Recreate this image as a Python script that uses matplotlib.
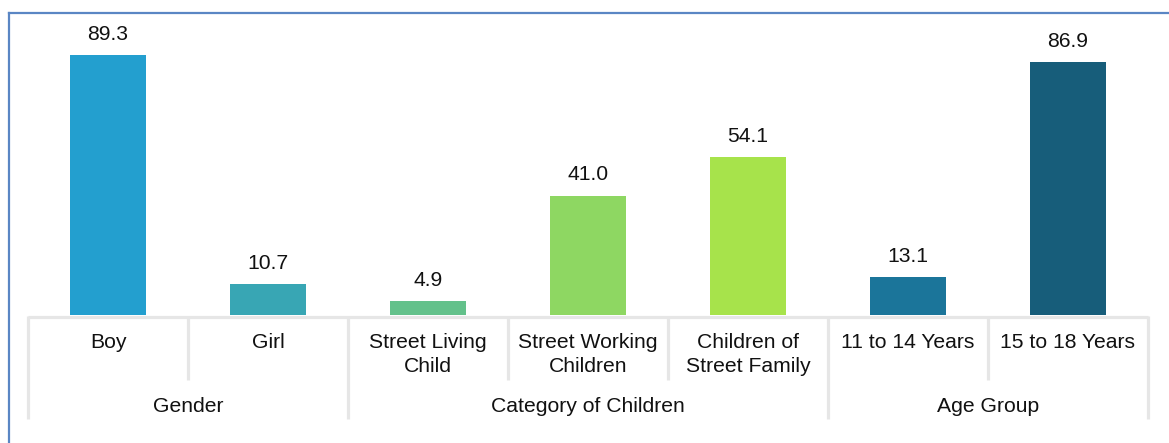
import numpy as np
import matplotlib
matplotlib.use("Agg")
import matplotlib.pyplot as plt
from matplotlib.transforms import blended_transform_factory

# data
categories = ["Boy", "Girl", "Street Living\nChild", "Street Working\nChildren",
              "Children of\nStreet Family", "11 to 14 Years", "15 to 18 Years"]
values = [89.3, 10.7, 4.9, 41.0, 54.1, 13.1, 86.9]
groups = ["Gender", "Category of Children", "Age Group"]
group_sizes = [2, 3, 2]
bar_colors = ["#239FCF", "#38A6B4", "#63C18B", "#8ED762", "#A7E34B", "#1B759A", "#175D7A"]

W, H = 1169, 443
plt.rcParams['font.family'] = ['Liberation Sans', 'DejaVu Sans']
plt.rcParams['font.size'] = 15.2

fig = plt.figure(figsize=(W / 100, H / 100), dpi=100)

# pixel helpers (origin at top-left like the picture)
def fx(px): return px / W
def fy(py): return 1 - py / H

x_left, x_right = 28, 1148
y_base = 315
px_per_unit = 2.912
ax_h = 100 * px_per_unit
ax = fig.add_axes([fx(x_left), fy(y_base), fx(x_right) - fx(x_left), ax_h / H])

x = np.arange(len(categories))
ax.bar(x, values, width=0.47, color=bar_colors, zorder=2)
for xi, v in zip(x, values):
    ax.annotate(f"{v:.1f}", (xi, v), xytext=(0, 8), textcoords="offset points",
                ha="center", va="bottom", color="#111111")

ax.set_xlim(-0.5, len(categories) - 0.5)
ax.set_ylim(0, 100)
ax.axis("off")

# multi-level category axis drawn below the plot
line_c = "#E6E6E6"
tr = blended_transform_factory(ax.transData, fig.transFigure)
ax.plot([-0.5, len(categories) - 0.5], [fy(316.5), fy(316.5)], color=line_c, lw=2.3,
        transform=tr, clip_on=False, solid_capstyle="butt")

bounds = np.cumsum([0] + group_sizes) - 0.5
for b in np.arange(-0.5, len(categories)):
    y_end = 419 if np.any(np.isclose(bounds, b)) else 380
    ax.plot([b, b], [fy(316), fy(y_end)], color=line_c, lw=2.3,
            transform=tr, clip_on=False, solid_capstyle="butt")

for xi, lab in zip(x, categories):
    ax.text(xi, fy(333), lab, transform=tr, ha="center", va="top",
            color="#111111", linespacing=1.35)

for g, lo, hi in zip(groups, bounds[:-1], bounds[1:]):
    ax.text((lo + hi) / 2, fy(407), g, transform=tr, ha="center", va="center",
            color="#111111")

# chart frame (only top and left edges fall inside the picture)
border_c = "#5A86C4"
fig.add_artist(plt.Line2D([fx(9), fx(W + 5)], [fy(13), fy(13)], color=border_c,
                          lw=1.6, transform=fig.transFigure))
fig.add_artist(plt.Line2D([fx(9), fx(9)], [fy(13), fy(H + 5)], color=border_c,
                          lw=1.6, transform=fig.transFigure))

fig.savefig("out.png", dpi=100, facecolor="white")
